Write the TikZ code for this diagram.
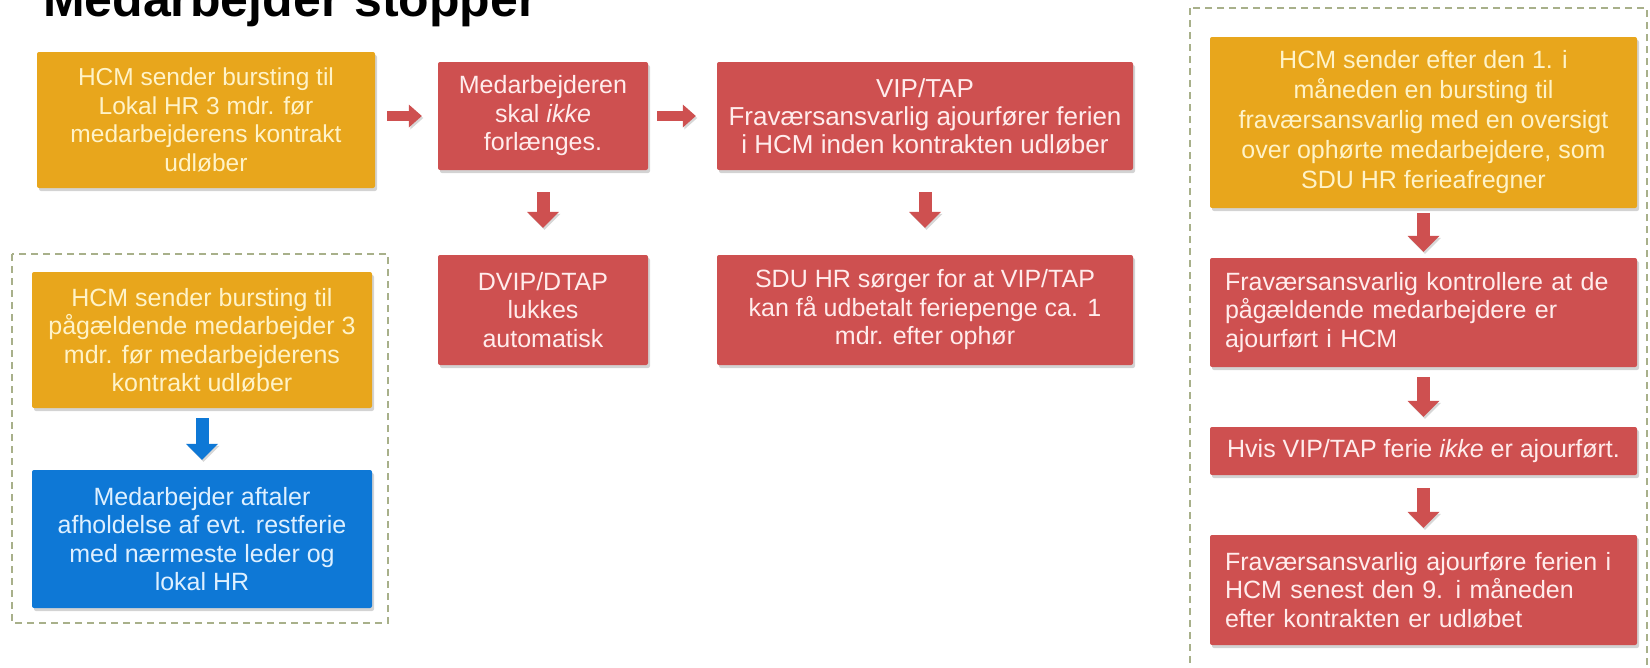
\documentclass[tikz,border=0pt]{standalone}
\usepackage{fontspec}
\setmainfont{Liberation Sans}
\usepackage{tikz}
\usetikzlibrary{arrows.meta, shadows}
\definecolor{sduorange}{RGB}{232,166,28}
\definecolor{sdured}{RGB}{206,80,80}
\definecolor{sdublue}{RGB}{14,120,214}
\definecolor{sdudash}{RGB}{168,176,138}
\definecolor{orangetext}{RGB}{255,243,200}
\definecolor{redtext}{RGB}{255,236,236}
\definecolor{bluetext}{RGB}{222,240,255}

\begin{document}
\begin{tikzpicture}[x=1pt, y=-1pt,
    box/.style={rectangle, rounded corners=2pt, inner xsep=6pt, inner ysep=0pt, align=center,
        font=\fontsize{25}{28.5}\selectfont,
        drop shadow={shadow xshift=2pt, shadow yshift=-3pt, opacity=0.35}},
    orangebox/.style={box, fill=sduorange, text=orangetext},
    redbox/.style={box, fill=sdured, text=redtext},
    bluebox/.style={box, fill=sdublue, text=bluetext},
    leftbox/.style={align=left, inner xsep=15pt, text width=397pt},
    arrowshadow/.style={preaction={draw=black!45, opacity=0.35, transform canvas={shift={(1.5pt,-2pt)}}}},
    flowarrow/.style={arrowshadow, draw=sdured, line width=10pt, -{Triangle[length=13pt, width=23pt, line width=0pt]}},
    downarrow/.style={arrowshadow, draw=sdured, line width=13pt, -{Triangle[length=16pt, width=32pt, line width=0pt]}},
    groupframe/.style={draw=sdudash, line width=1.5pt, dash pattern=on 7pt off 5pt}]

    \useasboundingbox (0,0) rectangle (1650,667);

    % Title
    \node[anchor=base west, inner sep=0pt, font=\bfseries\fontsize{50}{60}\selectfont] (title) at (43,16) {Medarbejder stopper};

    % Group frames
    \draw[groupframe] (12,254) rectangle (388,623);
    \draw[groupframe] (1190,8) rectangle (1647,690);

    % Top row
    \node[orangebox, minimum width=338pt, minimum height=136pt, font=\fontsize{24.5}{28.5}\selectfont] (lokalhr) at (206,120)
        {HCM sender bursting til\\Lokal HR 3 mdr. før\\medarbejderens kontrakt\\udløber};
    \node[redbox, minimum width=210pt, minimum height=108pt] (ikkeforl) at (543,116)
        {Medarbejderen\\skal \textit{ikke}\\forlænges.};
    \node[redbox, minimum width=416pt, minimum height=108pt, font=\fontsize{26}{28}\selectfont] (ajourfoer) at (925,116)
        {VIP/TAP\\Fraværsansvarlig ajourfører ferien\\i HCM inden kontrakten udløber};

    % Second row
    \node[redbox, minimum width=210pt, minimum height=110pt] (lukkes) at (543,310)
        {DVIP/DTAP\\lukkes\\automatisk};
    \node[redbox, minimum width=416pt, minimum height=110pt] (udbetalt) at (925,310)
        {SDU HR sørger for at VIP/TAP\\kan få udbetalt feriepenge ca. 1\\mdr. efter ophør};

    % Left group
    \node[orangebox, minimum width=340pt, minimum height=136pt] (medarb) at (202,340)
        {HCM sender bursting til\\pågældende medarbejder 3\\mdr. før medarbejderens\\kontrakt udløber};
    \node[bluebox, minimum width=340pt, minimum height=138pt] (restferie) at (202,539)
        {Medarbejder aftaler\\afholdelse af evt. restferie\\med nærmeste leder og\\lokal HR};

    % Right group
    \node[orangebox, minimum width=427pt, minimum height=171pt, font=\fontsize{25}{30}\selectfont] (oversigt) at (1423.5,122.5)
        {HCM sender efter den 1. i\\måneden en bursting til\\fraværsansvarlig med en oversigt\\over ophørte medarbejdere, som\\SDU HR ferieafregner};
    \node[redbox, leftbox, minimum height=109pt] (kontrol) at (1423.5,312.5)
        {Fraværsansvarlig kontrollere at de\\pågældende medarbejdere er\\ajourført i HCM};
    \node[redbox, minimum width=427pt, minimum height=48pt] (hvis) at (1423.5,451)
        {Hvis VIP/TAP ferie \textit{ikke} er ajourført.};
    \node[redbox, leftbox, minimum height=110pt] (senest) at (1423.5,590)
        {Fraværsansvarlig ajourføre ferien i\\HCM senest den 9. i måneden\\efter kontrakten er udløbet};

    % Arrows
    \draw[flowarrow, shorten <=12pt, shorten >=16pt] (ikkeforl.west -| lokalhr.east) -- (ikkeforl.west);
    \draw[flowarrow, shorten <=9pt, shorten >=21pt] (ikkeforl.east) -- (ajourfoer.west);
    \draw[downarrow, shorten <=22pt, shorten >=27pt] (ikkeforl) -- (lukkes);
    \draw[downarrow, shorten <=22pt, shorten >=27pt] (ajourfoer) -- (udbetalt);
    \draw[downarrow, draw=sdublue, shorten <=10pt, shorten >=10pt] (medarb) -- (restferie);
    \draw[downarrow, shorten <=5pt, shorten >=6pt] (oversigt) -- (kontrol);
    \draw[downarrow, shorten <=10pt, shorten >=10pt] (kontrol) -- (hvis);
    \draw[downarrow, shorten <=13pt, shorten >=7pt] (hvis) -- (senest);
\end{tikzpicture}
\end{document}
